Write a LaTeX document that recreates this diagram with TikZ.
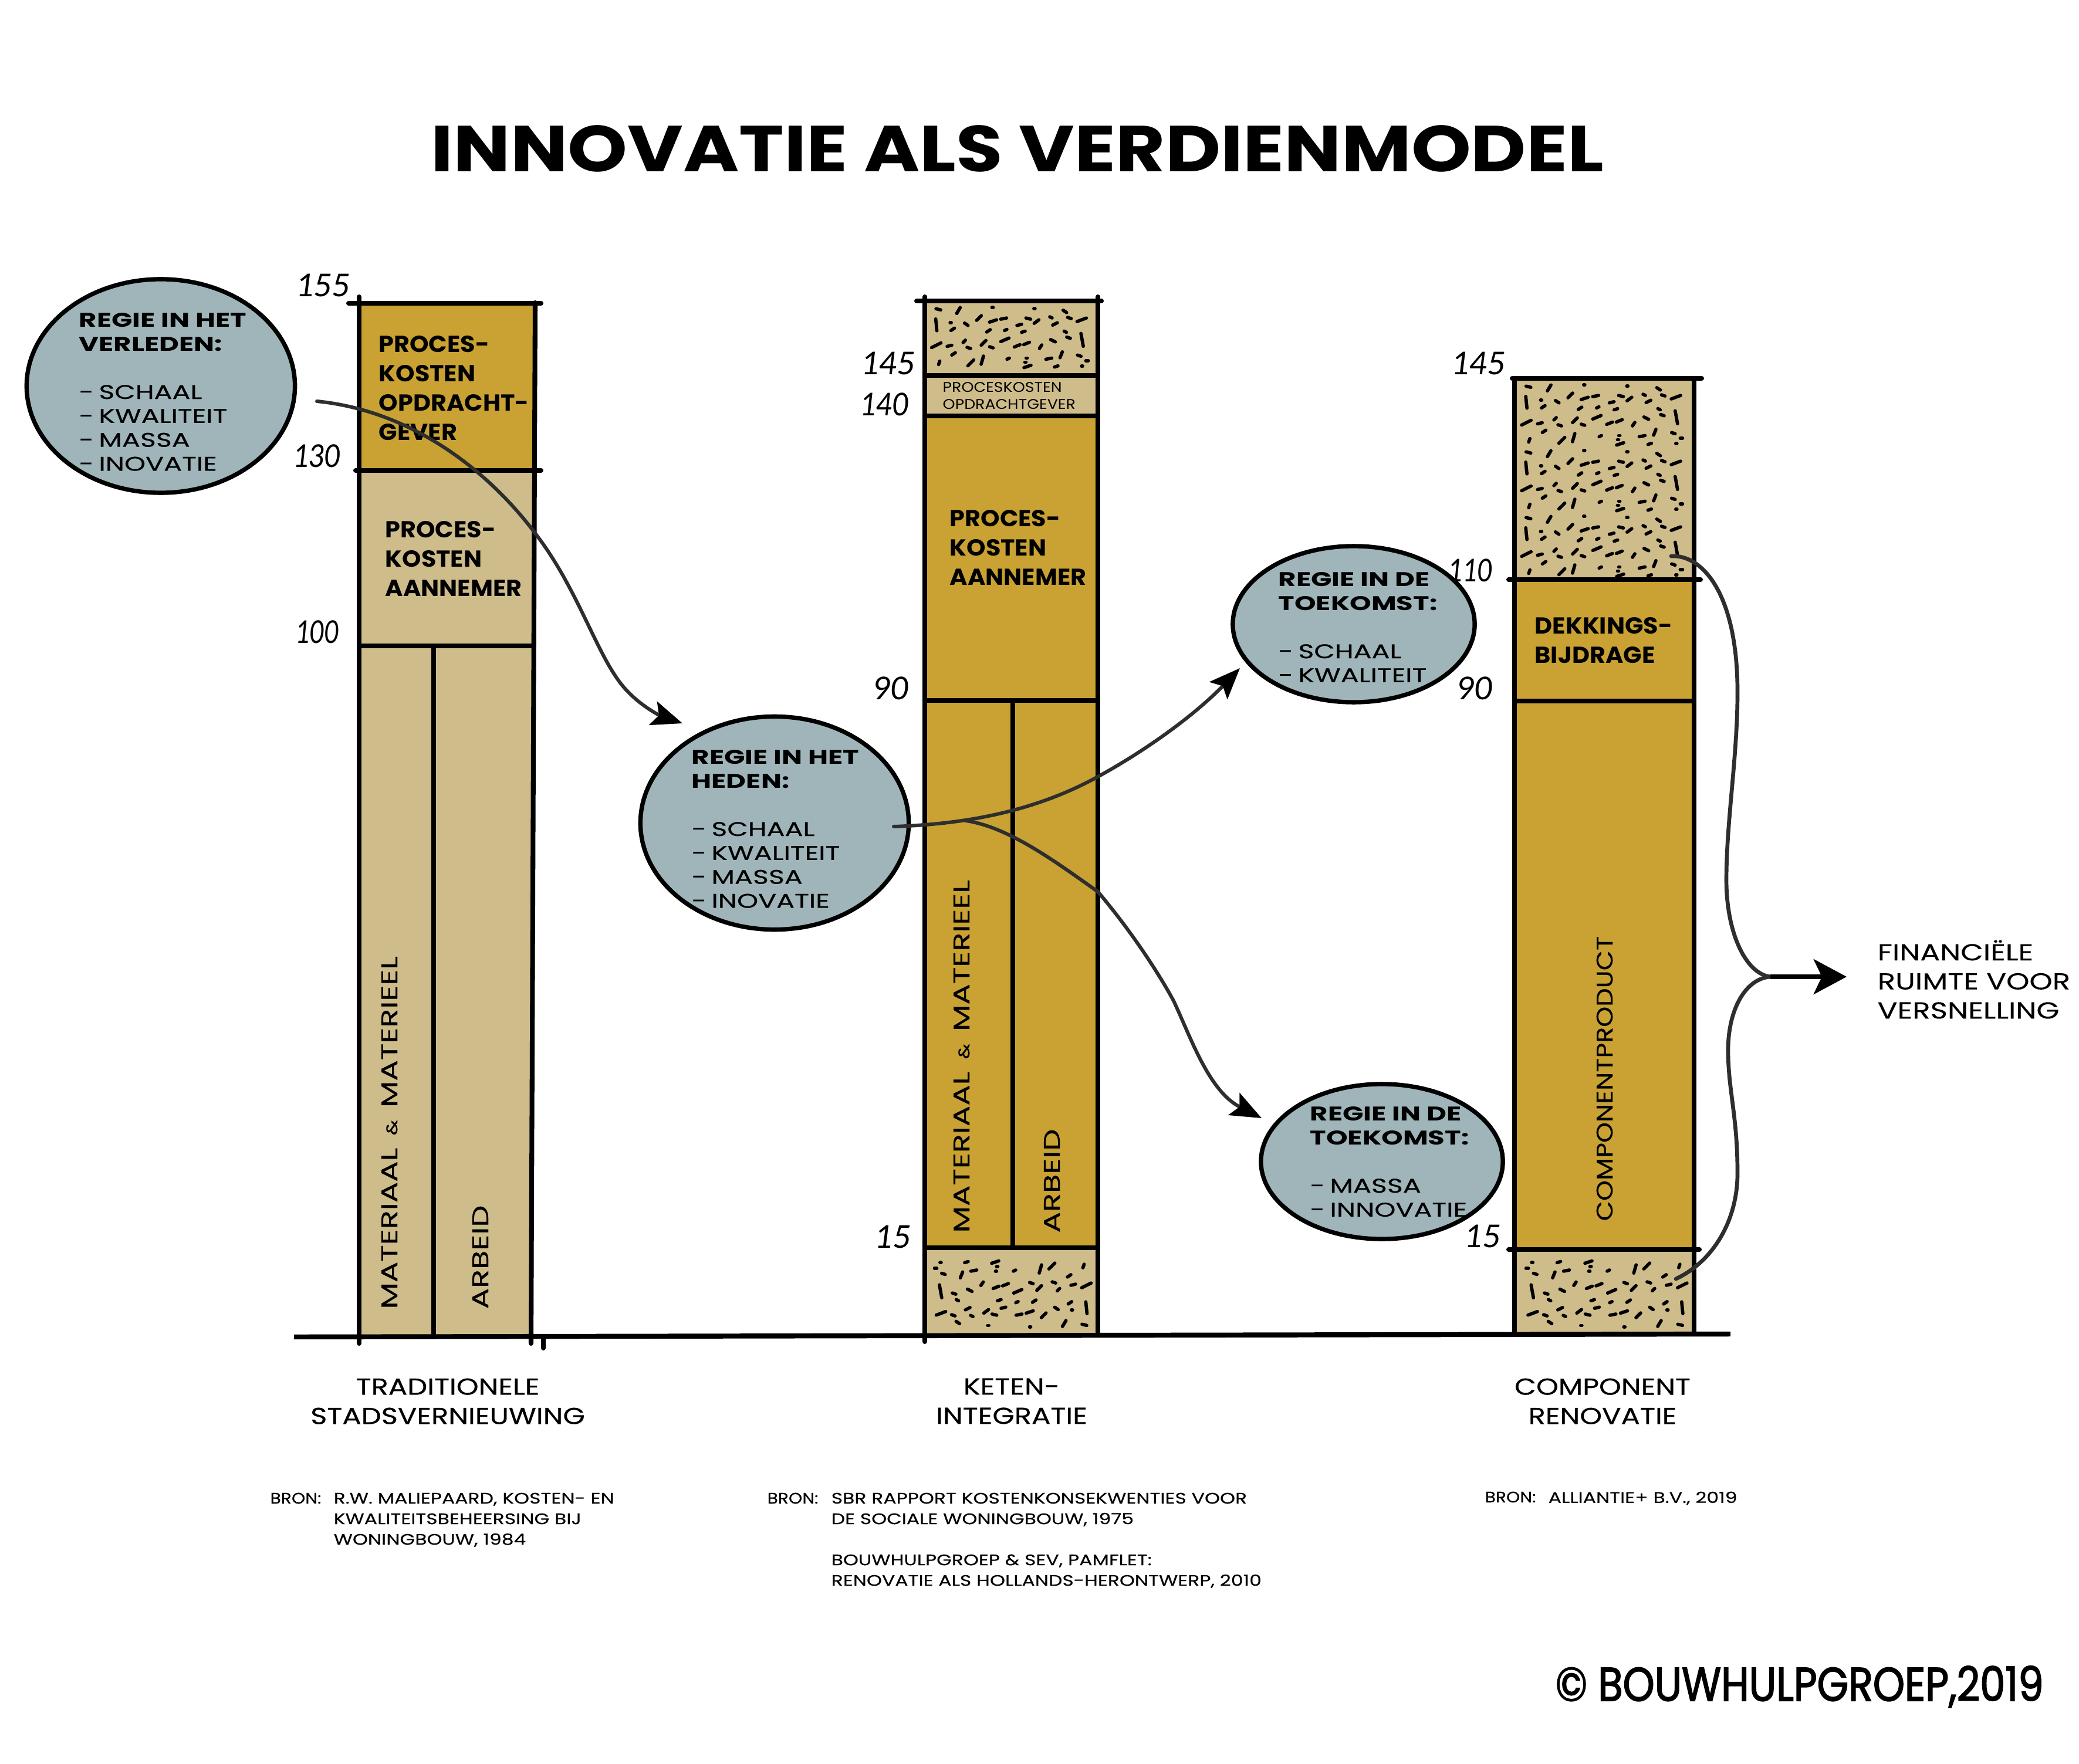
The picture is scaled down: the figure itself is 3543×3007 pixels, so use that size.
\documentclass[tikz,border=0pt]{standalone}
\usepackage{fontspec}
\usetikzlibrary{shapes.geometric,arrows.meta}
\newfontfamily\handT[FakeStretch=1.17]{Poppins}
\newfontfamily\handB[FakeStretch=1.05]{Poppins}
\newfontfamily\handC[FakeStretch=1.36,FakeBold=0.5]{Poppins}
\newfontfamily\handJ[FakeStretch=1.38]{Poppins}
\newfontfamily\handD[FakeStretch=1.22,FakeBold=0.5]{Poppins}
\newfontfamily\handE[FakeStretch=1.27,FakeBold=0.3]{Poppins}
\newfontfamily\handF[FakeStretch=1.12]{Poppins}
\newfontfamily\handK[FakeStretch=1.14,FakeBold=0.3]{Poppins}
\newfontfamily\handG[FakeStretch=1.36,FakeBold=0.4]{Poppins}
\newfontfamily\handH[FakeStretch=1.15,FakeBold=0.4]{Poppins}
\newfontfamily\handS[FakeStretch=.85,FakeBold=2]{Poppins}
\newfontfamily\numf{Carlito}
\definecolor{tanbox}{HTML}{CFBC8B}
\definecolor{goldbox}{HTML}{C9A233}
\definecolor{ballon}{HTML}{9FB5BA}
\definecolor{pen}{HTML}{2E2E2E}
\newcommand{\dd}{\makebox[9.6pt][l]{-}}
\newcommand{\hd}[1]{{\handJ\bfseries #1}}
\newcommand{\stip}[4]{%
  \foreach \xx/\yy/\uu/\vv in {213/93/4/1,262/97/3/-5,345/87/1/0,447/91/1/0,521/100/3/2,312/122/4/-4,346/132/6/-2,372/124/5/-1,432/124/4/1,452/134/4/-3,487/120/2/1,497/142/4/-2,532/122/3/1,562/128/8/-3,208/145/1/10,243/138/1/0,248/160/3/-2,281/143/3/2,335/165/3/-2,377/162/2/-1,410/145/4/-1,420/168/3/-1,522/168/2/1,530/188/3/1,563/195/2/11,208/213/8/-4,240/215/4/-1,276/200/2/-2,287/222/3/1,323/205/4/-4,342/220/3/1,375/195/7/-3,405/215/5/-2,428/207/5/-2,462/218/2/-3,492/198/4/2,250/242/3/-2,215/272/1/-3,292/272/5/-5,320/263/2/-7,383/258/2/-1,428/256/1/0,430/284/6/-2,482/258/5/-1,512/245/2/-5,500/284/3/-1,556/248/3/1,575/265/2/0,563/283/1/0,425/270/1/0}{%
    \draw[speck] ({#1+#3*(\xx-180)-\uu},{#2+#4*(\yy-65)-\vv}) -- ({#1+#3*(\xx-180)+\uu},{#2+#4*(\yy-65)+\vv});
  }}
\newcommand{\amp}{\hspace*{6pt}{\fontsize{7.5}{8}\selectfont\&}\hspace*{6pt}}
\tikzset{
  speck/.style={line width=1.6pt,line cap=round,black},
  barline/.style={line width=2.3pt,line cap=round,black},
  bub/.style={ellipse,draw=black,line width=2.1pt,fill=ballon,inner sep=0pt},
  tx/.style={inner sep=0pt,anchor=north west,align=left},
  boxlab/.style={tx,font=\handB\bfseries\fontsize{11.2}{14.22}\selectfont},
  capt/.style={inner sep=0pt,anchor=north,align=center,font=\handD\fontsize{11.2}{14.22}\selectfont},
  bubtx/.style={tx,font=\handC\fontsize{9.6}{11.6}\selectfont},
  bron/.style={tx,font=\handE\fontsize{7.4}{9.96}\selectfont},
  bronlab/.style={tx,font=\handK\fontsize{7.4}{9.96}\selectfont},
  vert/.style={inner sep=0pt,rotate=90,anchor=base west,font=\handG\fontsize{11}{13}\selectfont},
  val/.style={inner sep=0pt,anchor=base east,font=\numf\itshape\fontsize{17}{17}\selectfont},
  conn/.style={line width=1.7pt,pen,line cap=round},
  tip/.style={-{Stealth[length=15pt,width=12pt,inset=3pt,color=black]}},
  bigtip/.style={-{Stealth[length=16pt,width=17pt,inset=4pt]},line width=2.2pt,black}
}
\begin{document}
\begin{tikzpicture}[x=0.01cm,y=-0.01cm]
\useasboundingbox (0,0) rectangle (3543,3007);
\fill[white] (0,0) rectangle (3543,3007);
% fills
\fill[goldbox] (612,516) rectangle (912,802);
\fill[tanbox] (612,802) -- (912,802) -- (905,2276) -- (612,2279) -- cycle;
\fill[tanbox] (1576,513) rectangle (1871,709);
\fill[goldbox] (1576,709) rectangle (1871,2127);
\fill[tanbox] (1576,2127) rectangle (1871,2274);
\fill[tanbox] (2581,645) rectangle (2887,988);
\fill[goldbox] (2581,988) rectangle (2887,2130);
\fill[tanbox] (2581,2130) rectangle (2887,2274);
% stipples
\stip{1576}{513}{.70}{.51}
\stip{1871}{2274}{-.70}{-.56}
\stip{2581}{645}{.72}{.51}
\stip{2581}{757}{.72}{.51}
\stip{2581}{869}{.72}{.51}
\stip{2887}{2274}{-.72}{-.56}
% bar 1
\draw[barline] (594,517) -- (922,517);
\draw[barline] (606,802) -- (922,802);
\draw[barline] (612,1101) -- (910,1101);
\draw[barline] (612,506) -- (612,2290);
\draw[barline] (912,516) -- (905,2290);
\draw[barline] (739,1101) -- (739,2277);
% bar 2
\draw[barline] (1562,513) -- (1877,513);
\draw[barline] (1576,640) -- (1871,640);
\draw[barline] (1576,709) -- (1871,709);
\draw[barline] (1576,1194) -- (1871,1194);
\draw[barline] (1576,2127) -- (1871,2127);
\draw[barline] (1576,506) -- (1576,2287);
\draw[barline] (1871,506) -- (1871,2274);
\draw[barline] (1726,1194) -- (1726,2127);
% bar 3
\draw[barline] (2577,645) -- (2900,645);
\draw[barline] (2571,988) -- (2898,988);
\draw[barline] (2581,1195) -- (2887,1195);
\draw[barline] (2571,2130) -- (2896,2130);
\draw[barline] (2581,645) -- (2581,2274);
\draw[barline] (2887,645) -- (2887,2274);
% axis
\draw[line width=2.4pt,black] (501,2279) -- (2949,2274);
\draw[barline] (926,2278) -- (926,2298);
% balloons
\node[bub,minimum width=4.57cm,minimum height=3.64cm] (e1) at (274,658) {};
\node[bub,minimum width=4.57cm,minimum height=3.63cm] (e2) at (1320,1403) {};
\node[bub,minimum width=4.12cm,minimum height=2.66cm] (e3) at (2307,1064) {};
\node[bub,minimum width=4.12cm,minimum height=2.64cm] (e4) at (2355,1980) {};
% title
\node[tx,font=\handT\bfseries\fontsize{31.5}{36}\selectfont] (title) at (734,213) {INNOVATIE ALS VERDIENMODEL};
% values
\node[val] (v155) at (596,506) {155};
\node[val] (v130) at (580,797) {\scalebox{.88}[1]{130}};
\node[val] (v100) at (577,1096) {\scalebox{.8}[1]{100}};
\node[val] (w145) at (1559,639) {145};
\node[val] (w140) at (1548,709) {\scalebox{.9}[1]{140}};
\node[val] (w90) at (1548,1192) {90};
\node[val] (w15) at (1552,2127) {15};
\node[val] (z145) at (2565,639) {145};
\node[val] (z110) at (2543,991) {\scalebox{.82}[1]{110}};
\node[val] (z90) at (2543,1192) {90};
\node[val] (z15) at (2557,2126) {15};
% box labels
\node[boxlab] (t1) at (645,572) {PROCES-\\KOSTEN\\OPDRACHT-\\GEVER};
\node[boxlab] (t2) at (656,888) {PROCES-\\KOSTEN\\AANNEMER};
\node[boxlab] (t3) at (1618,869) {PROCES-\\KOSTEN\\AANNEMER};
\node[tx,font=\handF\fontsize{6.8}{8.25}\selectfont] (t4) at (1606,651) {PROCESKOSTEN\\OPDRACHTGEVER};
\node[boxlab] (t5) at (2615,1052) {DEKKINGS-\\BIJDRAGE};
% vertical labels
\node[vert] (r1) at (677,2232) {MATERIAAL\amp MATERIEEL};
\node[vert] (r2) at (832,2232) {ARBEID};
\node[vert] (r3) at (1652,2102) {MATERIAAL\amp MATERIEEL};
\node[vert] (r4) at (1806,2102) {ARBEID};
\node[vert,font=\handH\fontsize{11}{13}\selectfont] (r5) at (2748,2082) {COMPONENTPRODUCT};
% balloon texts
\node[bubtx] (b1) at (134,533) {\hd{REGIE IN HET}\\\hd{VERLEDEN:}\\\mbox{}\\\dd SCHAAL\\\dd KWALITEIT\\\dd MASSA\\\dd INOVATIE};
\node[bubtx] (b2) at (1178,1278) {\hd{REGIE IN HET}\\\hd{HEDEN:}\\\mbox{}\\\dd SCHAAL\\\dd KWALITEIT\\\dd MASSA\\\dd INOVATIE};
\node[bubtx] (b3) at (2178,975) {\hd{REGIE IN DE}\\\hd{TOEKOMST:}\\\mbox{}\\\dd SCHAAL\\\dd KWALITEIT};
\node[bubtx] (b4) at (2232,1886) {\hd{REGIE IN DE}\\\hd{TOEKOMST:}\\\mbox{}\\\dd MASSA\\\dd INNOVATIE};
% captions
\node[capt] (c1) at (763,2349) {TRADITIONELE\\STADSVERNIEUWING};
\node[capt] (c2) at (1724,2349) {KETEN-\\INTEGRATIE};
\node[capt] (c3) at (2731,2349) {COMPONENT\\RENOVATIE};
\node[tx,font=\handE\fontsize{11.2}{14.1}\selectfont] (c4) at (3199,1602) {FINANCIËLE\\RUIMTE VOOR\\VERSNELLING};
% sources
\node[bronlab] (s1) at (460,2544) {BRON:};
\node[bron] (s1t) at (568,2544) {R.W. MALIEPAARD, KOSTEN- EN\\KWALITEITSBEHEERSING BIJ\\WONINGBOUW, 1984};
\node[bronlab] (s2) at (1307,2544) {BRON:};
\node[bron] (s2t) at (1416,2544) {SBR RAPPORT KOSTENKONSEKWENTIES VOOR\\DE SOCIALE WONINGBOUW, 1975\\\mbox{}\\BOUWHULPGROEP \& SEV, PAMFLET:\\RENOVATIE ALS HOLLANDS-HERONTWERP, 2010};
\node[bronlab] (s3) at (2530,2542) {BRON:};
\node[bron] (s3t) at (2638,2542) {ALLIANTIE+ B.V., 2019};
% signature
\node[tx,font=\handS\fontsize{23}{25}\selectfont] (sig) at (2650,2839) {© BOUWHULPGROEP,2019};
% connectors
\coordinate (a1) at (540,684);
\coordinate (a2) at (912,909);
\coordinate (a3) at (1071,1180);
\coordinate (a4) at (1163,1233);
\draw[conn,tip] (a1) .. controls (700,700) and (830,800) .. (a2) .. controls (990,1010) and (1020,1130) .. (a3) .. controls (1095,1205) and (1125,1220) .. (a4);
\coordinate (m1) at (1523,1409);
\coordinate (m2) at (1646,1399);
\coordinate (u1) at (1871,1324);
\coordinate (u2) at (2113,1139);
\draw[conn,tip] (m1) .. controls (1640,1405) and (1760,1385) .. (u1) .. controls (1960,1275) and (2040,1215) .. (u2);
\coordinate (d1) at (1871,1520);
\coordinate (d2) at (2000,1706);
\coordinate (d3) at (2150,1906);
\draw[conn,tip] (m2) .. controls (1720,1410) and (1800,1470) .. (d1) .. controls (1930,1590) and (1975,1660) .. (d2) .. controls (2030,1770) and (2060,1860) .. (d3);
\coordinate (jn) at (3017,1665);
\coordinate (endtip) at (3147,1665);
\coordinate (f1) at (2848,948);
\coordinate (f2) at (2961,1180);
\coordinate (f3) at (2942,1500);
\draw[conn,line width=1.9pt] (f1) .. controls (2900,945) and (2961,1010) .. (f2) .. controls (2961,1290) and (2942,1400) .. (f3) .. controls (2942,1590) and (2975,1660) .. (jn);
\coordinate (g1) at (2856,2180);
\coordinate (g2) at (2961,2000);
\coordinate (g3) at (2945,1790);
\draw[conn,line width=1.9pt] (g1) .. controls (2920,2150) and (2961,2080) .. (g2) .. controls (2961,1900) and (2945,1860) .. (g3) .. controls (2945,1720) and (2975,1668) .. (jn);
\draw[bigtip] (jn) -- (endtip);
\end{tikzpicture}
\end{document}
